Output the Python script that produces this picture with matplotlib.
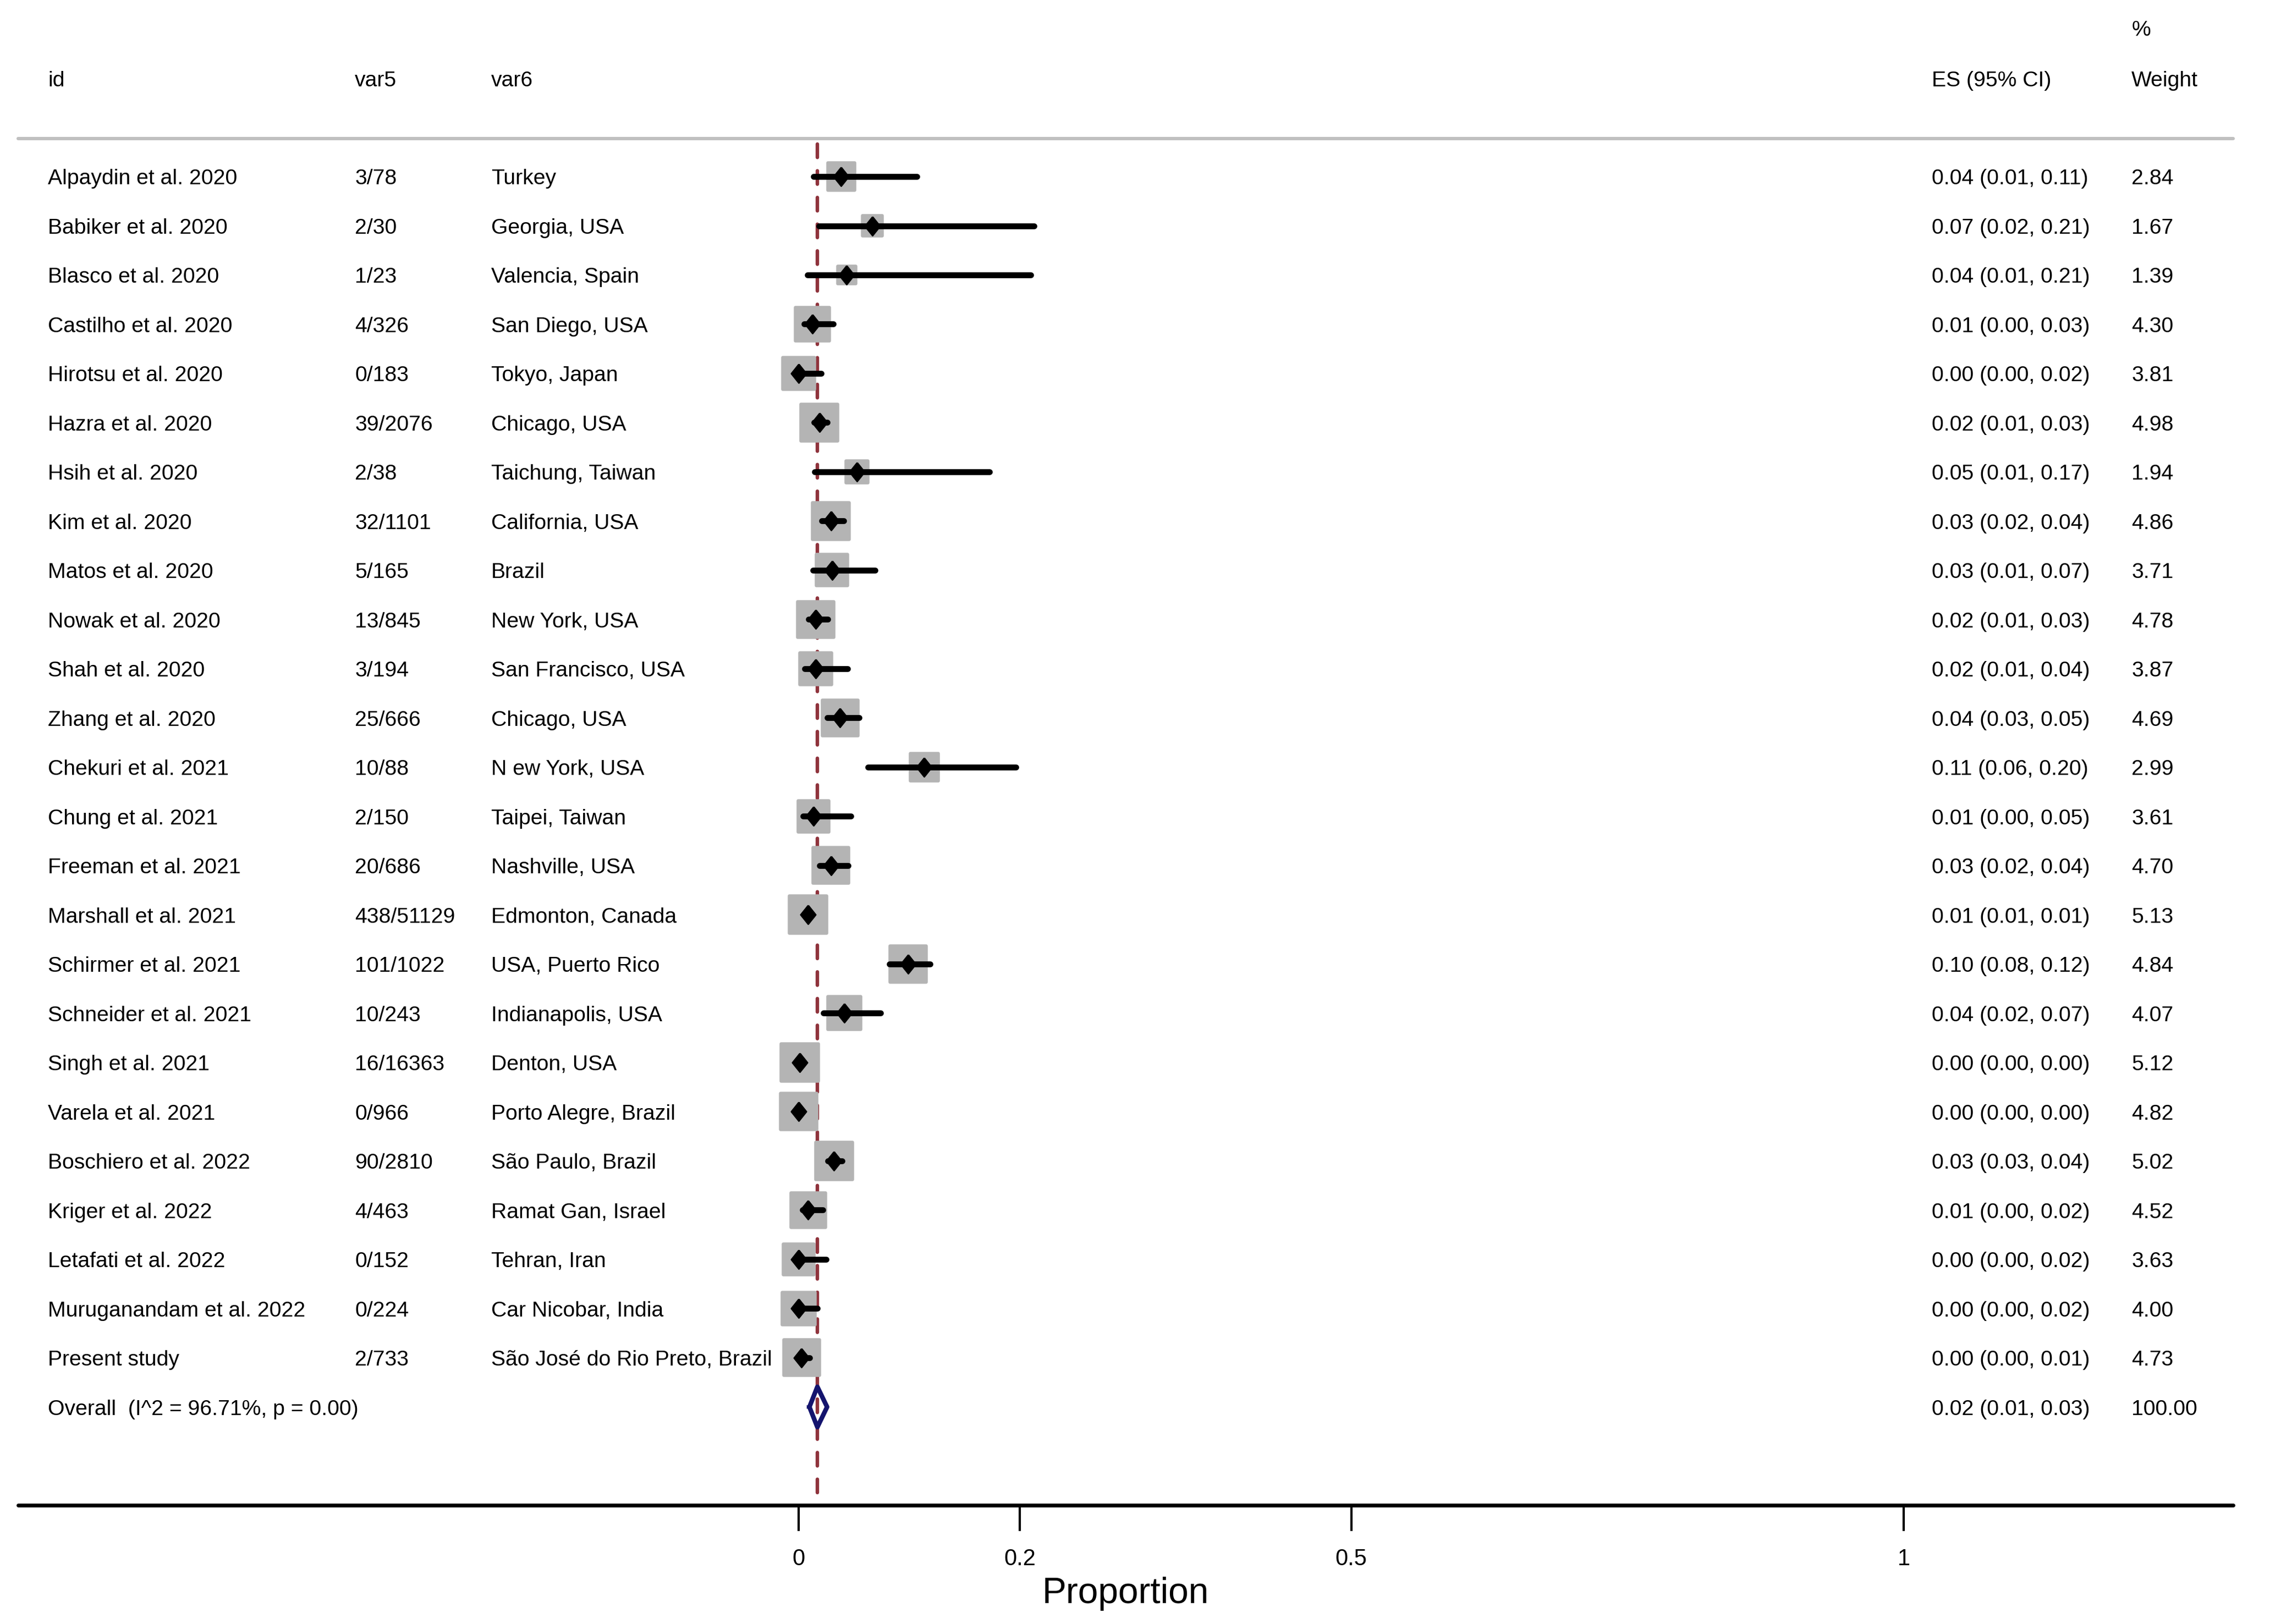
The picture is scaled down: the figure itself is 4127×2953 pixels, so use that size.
import matplotlib
matplotlib.use("agg")
import matplotlib.pyplot as plt
from matplotlib.markers import MarkerStyle
import numpy as np

plt.rcParams['font.family'] = ['Liberation Sans', 'DejaVu Sans']

# study table
studies = ["Alpaydin et al. 2020", "Babiker et al. 2020", "Blasco et al. 2020",
           "Castilho et al. 2020", "Hirotsu et al. 2020", "Hazra et al. 2020",
           "Hsih et al. 2020", "Kim et al. 2020", "Matos et al. 2020",
           "Nowak et al. 2020", "Shah et al. 2020", "Zhang et al. 2020",
           "Chekuri et al. 2021", "Chung et al. 2021", "Freeman et al. 2021",
           "Marshall et al. 2021", "Schirmer et al. 2021", "Schneider et al. 2021",
           "Singh et al. 2021", "Varela et al. 2021", "Boschiero et al. 2022",
           "Kriger et al. 2022", "Letafati et al. 2022", "Muruganandam et al. 2022",
           "Present study"]
cases = ["3/78", "2/30", "1/23", "4/326", "0/183", "39/2076", "2/38", "32/1101",
         "5/165", "13/845", "3/194", "25/666", "10/88", "2/150", "20/686",
         "438/51129", "101/1022", "10/243", "16/16363", "0/966", "90/2810",
         "4/463", "0/152", "0/224", "2/733"]
places = ["Turkey", "Georgia, USA", "Valencia, Spain", "San Diego, USA",
          "Tokyo, Japan", "Chicago, USA", "Taichung, Taiwan", "California, USA",
          "Brazil", "New York, USA", "San Francisco, USA", "Chicago, USA",
          "N ew York, USA", "Taipei, Taiwan", "Nashville, USA", "Edmonton, Canada",
          "USA, Puerto Rico", "Indianapolis, USA", "Denton, USA",
          "Porto Alegre, Brazil", "São Paulo, Brazil", "Ramat Gan, Israel",
          "Tehran, Iran", "Car Nicobar, India", "São José do Rio Preto, Brazil"]

# effect sizes and 95% CI
es = [0.0385, 0.0667, 0.0435, 0.0123, 0.0, 0.0188, 0.0526, 0.0291, 0.0303,
      0.0154, 0.0155, 0.0375, 0.1136, 0.0133, 0.0292, 0.0086, 0.0988, 0.0412,
      0.0010, 0.0, 0.0320, 0.0086, 0.0, 0.0, 0.0027]
ci_low = [0.0132, 0.0185, 0.0077, 0.0048, 0.0, 0.0138, 0.0146, 0.0207, 0.0130,
          0.0090, 0.0053, 0.0256, 0.0629, 0.0037, 0.0190, 0.0078, 0.0820, 0.0225,
          0.0006, 0.0, 0.0261, 0.0034, 0.0, 0.0, 0.0008]
ci_high = [0.1071, 0.2132, 0.2099, 0.0311, 0.0206, 0.0256, 0.1729, 0.0407, 0.0690,
           0.0261, 0.0445, 0.0548, 0.1967, 0.0473, 0.0446, 0.0094, 0.1187, 0.0741,
           0.0016, 0.0040, 0.0392, 0.0220, 0.0247, 0.0169, 0.0099]
weights = [2.84, 1.67, 1.39, 4.30, 3.81, 4.98, 1.94, 4.86, 3.71, 4.78, 3.87, 4.69,
           2.99, 3.61, 4.70, 5.13, 4.84, 4.07, 5.12, 4.82, 5.02, 4.52, 3.63, 4.00,
           4.73]
es_labels = ["0.04 (0.01, 0.11)", "0.07 (0.02, 0.21)", "0.04 (0.01, 0.21)",
             "0.01 (0.00, 0.03)", "0.00 (0.00, 0.02)", "0.02 (0.01, 0.03)",
             "0.05 (0.01, 0.17)", "0.03 (0.02, 0.04)", "0.03 (0.01, 0.07)",
             "0.02 (0.01, 0.03)", "0.02 (0.01, 0.04)", "0.04 (0.03, 0.05)",
             "0.11 (0.06, 0.20)", "0.01 (0.00, 0.05)", "0.03 (0.02, 0.04)",
             "0.01 (0.01, 0.01)", "0.10 (0.08, 0.12)", "0.04 (0.02, 0.07)",
             "0.00 (0.00, 0.00)", "0.00 (0.00, 0.00)", "0.03 (0.03, 0.04)",
             "0.01 (0.00, 0.02)", "0.00 (0.00, 0.02)", "0.00 (0.00, 0.02)",
             "0.00 (0.00, 0.01)"]

overall_es = 0.0169
overall_low = 0.0097
overall_high = 0.0257
overall_label = "Overall  (I^2 = 96.71%, p = 0.00)"
overall_es_label = "0.02 (0.01, 0.03)"
overall_weight_label = "100.00"

xticks = [0, 0.2, 0.5, 1]
xtick_labels = ["0", "0.2", "0.5", "1"]

# colours
box_grey = '#b4b4b4'
rule_grey = '#c0c0c0'
ref_red = '#8f333c'
navy = '#14146e'

fig = plt.figure(figsize=(4127 / 200, 2953 / 200), dpi=200)
ax = fig.add_axes([0, 0, 1, 1])
ax.set_xlim(-0.7228, 1.3315)
ax.set_ylim(29.41, -3.587)

n = len(studies)
rows = np.arange(n)
y_overall = n
y_axis = n + 2
tr = ax.get_yaxis_transform()

#dashed line at the pooled estimate
ax.plot([overall_es, overall_es], [-0.66, y_axis], color=ref_red, lw=2.3,
        dashes=(3.8, 3.8), dash_capstyle='round', zorder=1)

#weight boxes (area ~ weight)
sizes = (11.7 * np.sqrt(weights) - 2) ** 2
ax.scatter(es, rows, s=sizes, marker=MarkerStyle('s', joinstyle='round'),
           color=box_grey, edgecolors=box_grey, linewidths=2, zorder=2)

#confidence intervals
ci = ax.hlines(rows, ci_low, ci_high, colors='black', lw=3.85, zorder=3)
ci.set_capstyle('round')

#point estimates
diamond = MarkerStyle(np.array([(0, 1), (0.8, 0), (0, -1), (-0.8, 0), (0, 1)]),
                      joinstyle='round')
ax.plot(es, rows, ls='none', marker=diamond, ms=12.3, mfc='black', mec='black',
        mew=1, zorder=4)

#overall diamond
h = 0.41
ax.plot([overall_low, overall_es, overall_high, overall_es, overall_low],
        [y_overall, y_overall - h, y_overall, y_overall + h, y_overall],
        color=navy, lw=3, solid_joinstyle='round', zorder=3)

#table text
col_id, col_v5, col_v6, col_es, col_w = 0.0211, 0.1563, 0.2164, 0.851, 0.939
fs = 14.1
for i in range(n):
    y = i + 0.16
    ax.text(col_id, y, studies[i], transform=tr, fontsize=fs, va='baseline')
    ax.text(col_v5, y, cases[i], transform=tr, fontsize=fs, va='baseline')
    ax.text(col_v6, y, places[i], transform=tr, fontsize=fs, va='baseline')
    ax.text(col_es, y, es_labels[i], transform=tr, fontsize=fs, va='baseline')
    ax.text(col_w, y, f"{weights[i]:.2f}", transform=tr, fontsize=fs, va='baseline')

y = y_overall + 0.16
ax.text(col_id, y, overall_label, transform=tr, fontsize=fs, va='baseline')
ax.text(col_es, y, overall_es_label, transform=tr, fontsize=fs, va='baseline')
ax.text(col_w, y, overall_weight_label, transform=tr, fontsize=fs, va='baseline')

#header
yh = -1.832
ax.text(col_id, yh, "id", transform=tr, fontsize=fs, va='baseline')
ax.text(col_v5, yh, "var5", transform=tr, fontsize=fs, va='baseline')
ax.text(col_v6, yh, "var6", transform=tr, fontsize=fs, va='baseline')
ax.text(col_es, yh, "ES (95% CI)", transform=tr, fontsize=fs, va='baseline')
ax.text(col_w, yh, "Weight", transform=tr, fontsize=fs, va='baseline')
ax.text(col_w, -2.86, "%", transform=tr, fontsize=fs, va='baseline')

#grey rule under header
ax.plot([0.008, 0.9838], [-0.771, -0.771], transform=tr, color=rule_grey, lw=2.2,
        solid_capstyle='round')

#bottom axis
x0, x1 = ax.get_xlim()
lo = x0 + 0.008 * (x1 - x0)
hi = x0 + 0.9838 * (x1 - x0)
for s in ['top', 'left', 'right']:
    ax.spines[s].set_visible(False)
ax.spines['bottom'].set_position(('data', y_axis))
ax.spines['bottom'].set_bounds(lo, hi)
ax.spines['bottom'].set_linewidth(2.5)
ax.spines['bottom'].set_capstyle('round')
ax.set_xticks(xticks, xtick_labels)
ax.tick_params(axis='x', length=17, width=1.5, pad=11, labelsize=15)
ax.set_yticks([])

ax.text((lo + hi) / 2, 28.98, "Proportion", ha='center', va='baseline', fontsize=23.7)

fig.savefig("out.png", dpi=200, facecolor='white')
